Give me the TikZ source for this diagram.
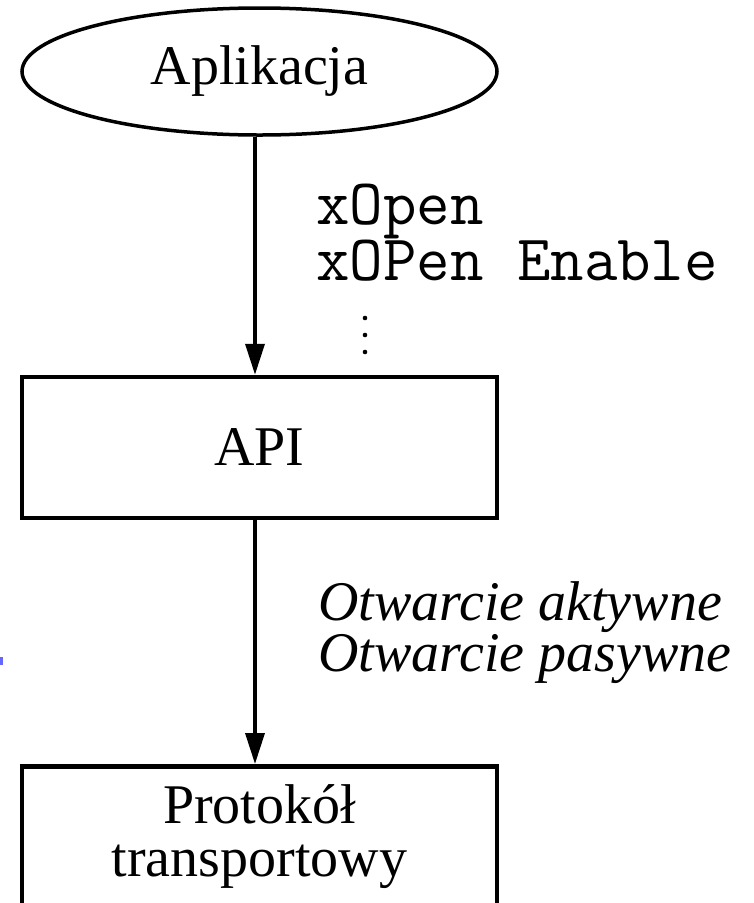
\documentclass[tikz,border=0pt]{standalone}
\usepackage{fontspec}
\setmainfont{Liberation Serif}
\usetikzlibrary{shapes.geometric,arrows.meta}
\begin{document}
\begin{tikzpicture}[x=1pt,y=-1pt,
  bigtext/.style={font=\fontsize{56}{53}\selectfont},
  boxshape/.style={draw,line width=4.5pt,minimum width=475pt,inner sep=0pt},
  conn/.style={line width=3.5pt,-{Triangle[length=31pt,width=19pt]}},
  monolabel/.style={font=\ttfamily\fontsize{65}{54}\selectfont,anchor=base west,align=left,inner sep=0pt},
  itlabel/.style={font=\itshape\fontsize{56}{49}\selectfont,anchor=base west,align=left,inner sep=0pt}]
\useasboundingbox (0,0) rectangle (753,903);
\begin{scope}
\clip (0,0) rectangle (753,903);
\node[ellipse,draw,line width=3.5pt,minimum width=475pt,minimum height=127pt,inner sep=0pt,bigtext] (app) at (259.5,71.5) {Aplikacja};
\node[boxshape,minimum height=141pt,bigtext] (api) at (259.5,447.5) {API};
\node[boxshape,minimum height=240pt,anchor=north] (proto) at (259.5,764) {};
\node[bigtext,align=center,anchor=base,inner sep=0pt] (prototext) at (259.5,876) {Protokół\\transportowy};
\end{scope}
\draw[conn] ([xshift=-4.5pt]app.south) -- ([xshift=-4.5pt]api.north);
\draw[conn] ([xshift=-4.5pt]api.south) -- ([xshift=-4.5pt]proto.north);
\node[monolabel] (calls) at (316,280) {xOpen\\xOPen Enable};
\fill (365,318) circle (2.3pt) (365,335) circle (2.3pt) (365,352) circle (2.3pt);
\node[itlabel] (opens) at (318,671) {Otwarcie aktywne\\Otwarcie pasywne};
\fill[blue!60] (0,657) rectangle (2.5,665);
\end{tikzpicture}
\end{document}
